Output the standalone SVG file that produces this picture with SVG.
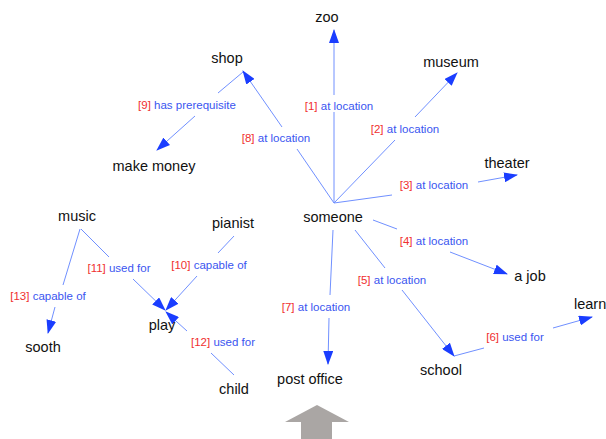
<svg xmlns="http://www.w3.org/2000/svg" width="606" height="439" viewBox="0 0 606 439">
<defs>
<marker id="ah" markerUnits="userSpaceOnUse" markerWidth="14" markerHeight="10" viewBox="0 0 14 10" refX="13" refY="5" orient="auto">
<path d="M0,0 L14,5 L0,10 Z" fill="#1a3dff"/>
</marker>
<style>
.n{font-family:"Liberation Sans",Arial,sans-serif;font-size:14.5px;fill:#111;text-anchor:middle}
.l{font-family:"Liberation Sans",Arial,sans-serif;font-size:11.5px;fill:#3a55f0;text-anchor:middle}
.r{fill:#f03030}
.e{stroke:#7090ff;stroke-width:1;fill:none}
.a{marker-end:url(#ah)}
</style>
</defs>
<rect width="606" height="439" fill="#fff"/>
<g id="connectors">
<line class="e" x1="334" y1="203" x2="334" y2="112"/><line class="e a" x1="334" y1="95" x2="334" y2="30"/>
<line class="e" x1="334" y1="203" x2="395" y2="140"/><line class="e a" x1="415" y1="117" x2="457" y2="73"/>
<line class="e" x1="334" y1="203" x2="392" y2="195"/><line class="e a" x1="478" y1="182" x2="517" y2="175"/>
<line class="e" x1="373" y1="220" x2="397" y2="229"/><line class="e a" x1="450" y1="252" x2="507" y2="274"/>
<line class="e" x1="355" y1="230" x2="385" y2="268"/><line class="e a" x1="402" y1="290" x2="454" y2="356"/>
<line class="e" x1="454" y1="356" x2="484" y2="348"/><line class="e a" x1="553" y1="328" x2="592" y2="317"/>
<line class="e" x1="333" y1="230" x2="330" y2="295"/><line class="e a" x1="329" y1="318" x2="328" y2="364"/>
<line class="e" x1="334" y1="203" x2="297" y2="149"/><line class="e a" x1="282" y1="127" x2="243" y2="71"/>
<line class="e" x1="243" y1="72" x2="218" y2="93"/><line class="e a" x1="195" y1="116" x2="157" y2="150"/>
<line class="e" x1="234" y1="236" x2="218" y2="253"/><line class="e a" x1="197" y1="276" x2="166" y2="310"/>
<line class="e" x1="81" y1="229" x2="109" y2="257"/><line class="e a" x1="133" y1="279" x2="165" y2="310"/>
<line class="e" x1="234" y1="375" x2="211" y2="353"/><line class="e a" x1="187" y1="331" x2="166" y2="312"/>
<line class="e" x1="80" y1="229" x2="63" y2="285"/><line class="e a" x1="55" y1="307" x2="48" y2="333"/>
</g>
<g id="edge-labels">
<text class="l" x="339" y="110"><tspan class="r">[1]</tspan> at location</text>
<text class="l" x="405" y="133"><tspan class="r">[2]</tspan> at location</text>
<text class="l" x="434" y="189"><tspan class="r">[3]</tspan> at location</text>
<text class="l" x="434" y="245"><tspan class="r">[4]</tspan> at location</text>
<text class="l" x="392" y="284"><tspan class="r">[5]</tspan> at location</text>
<text class="l" x="515" y="341"><tspan class="r">[6]</tspan> used for</text>
<text class="l" x="316" y="311"><tspan class="r">[7]</tspan> at location</text>
<text class="l" x="276" y="142"><tspan class="r">[8]</tspan> at location</text>
<text class="l" x="187" y="109"><tspan class="r">[9]</tspan> has prerequisite</text>
<text class="l" x="209" y="269"><tspan class="r">[10]</tspan> capable of</text>
<text class="l" x="119" y="272"><tspan class="r">[11]</tspan> used for</text>
<text class="l" x="223" y="346"><tspan class="r">[12]</tspan> used for</text>
<text class="l" x="48" y="300"><tspan class="r">[13]</tspan> capable of</text>
</g>
<g id="zoo"><text class="n" x="327" y="22">zoo</text></g>
<g id="shop"><text class="n" x="227" y="63">shop</text></g>
<g id="museum"><text class="n" x="451" y="67">museum</text></g>
<g id="theater"><text class="n" x="507" y="168">theater</text></g>
<g id="someone"><text class="n" x="333" y="222">someone</text></g>
<g id="a-job"><text class="n" x="530" y="281">a job</text></g>
<g id="learn"><text class="n" x="574" y="309" style="text-anchor:start">learn</text></g>
<g id="school"><text class="n" x="441" y="375">school</text></g>
<g id="post-office"><text class="n" x="310" y="384">post office</text></g>
<g id="make-money"><text class="n" x="154" y="171">make money</text></g>
<g id="music"><text class="n" x="77" y="221">music</text></g>
<g id="pianist"><text class="n" x="233" y="228">pianist</text></g>
<g id="play"><text class="n" x="162" y="330">play</text></g>
<g id="sooth"><text class="n" x="43" y="352">sooth</text></g>
<g id="child"><text class="n" x="234" y="394">child</text></g>
<g id="gray-arrow"><path d="M317,405 L349,422 L332,422 L332,439 L301,439 L301,422 L285,422 Z" fill="#aaa6a4"/></g>
</svg>
